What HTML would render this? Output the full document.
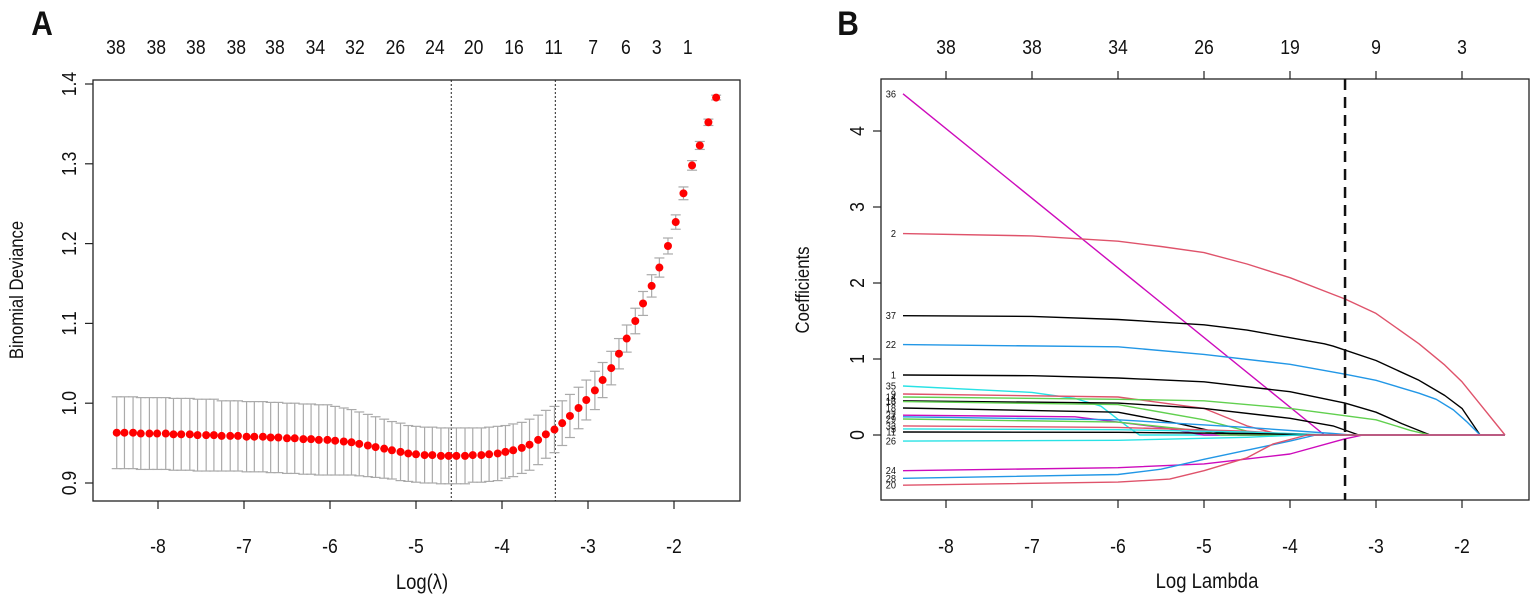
<!DOCTYPE html>
<html><head><meta charset="utf-8"><style>
html,body{margin:0;padding:0;background:#fff;}
svg{display:block;font-family:"Liberation Sans",sans-serif;}
</style></head><body>
<svg id="fig" width="1535" height="597" viewBox="0 0 1535 597" xmlns="http://www.w3.org/2000/svg">
<g id="pa"></g>
<g id="pb"></g>
</svg>
<script>
// ---------- Panel A data ----------
const logLambdaA = [-8.48,-8.39,-8.29,-8.20,-8.10,-8.01,-7.91,-7.82,-7.73,-7.63,-7.54,-7.44,-7.35,-7.26,-7.16,-7.07,-6.97,-6.88,-6.78,-6.69,-6.60,-6.50,-6.41,-6.31,-6.22,-6.13,-6.03,-5.94,-5.84,-5.75,-5.66,-5.56,-5.47,-5.37,-5.28,-5.18,-5.09,-5.00,-4.90,-4.81,-4.71,-4.62,-4.53,-4.43,-4.34,-4.24,-4.15,-4.05,-3.96,-3.87,-3.77,-3.68,-3.58,-3.49,-3.39,-3.30,-3.21,-3.11,-3.02,-2.92,-2.83,-2.73,-2.64,-2.55,-2.45,-2.36,-2.26,-2.17,-2.07,-1.98,-1.89,-1.79,-1.70,-1.60,-1.51];
const devianceA = [0.963,0.963,0.963,0.962,0.962,0.962,0.962,0.961,0.961,0.961,0.960,0.960,0.960,0.959,0.959,0.959,0.958,0.958,0.958,0.957,0.957,0.956,0.956,0.955,0.955,0.954,0.954,
0.953,0.952,0.951,0.949,0.947,0.945,0.943,0.941,0.939,0.937,0.936,0.935,0.935,0.934,
0.934,0.934,0.934,0.935,0.935,0.936,
0.937,0.939,0.941,0.944,0.948,0.954,
0.961,0.967,0.975,0.984,0.994,1.004,1.016,1.029,1.044,1.062,1.081,1.103,1.125,1.147,1.170,1.197,1.227,1.263,1.298,1.323,1.352,1.383];
const seA = [0.045,0.045,0.045,0.045,0.045,0.045,0.045,0.045,0.045,0.045,0.045,0.045,0.045,0.044,0.044,0.044,0.044,0.044,0.044,0.044,0.044,0.044,0.044,0.044,0.044,0.044,0.044,
0.043,0.042,0.041,0.040,0.039,0.038,0.037,0.036,0.036,0.035,0.035,0.035,0.035,0.035,
0.035,0.035,0.035,0.034,0.034,0.034,
0.034,0.033,0.033,0.032,0.032,0.031,
0.030,0.029,0.028,0.027,0.026,0.025,0.024,0.022,0.021,0.019,0.017,0.016,0.015,0.014,0.012,0.010,0.009,0.008,0.006,0.005,0.004,0.003];
const xTicksA = [-8,-7,-6,-5,-4,-3,-2];
const yTicksA = [0.9,1.0,1.1,1.2,1.3,1.4];
const yTickLabelsA = ["0.9","1.0","1.1","1.2","1.3","1.4"];
const topPosA = [-8.49,-8.02,-7.56,-7.09,-6.64,-6.17,-5.71,-5.24,-4.78,-4.33,-3.86,-3.40,-2.94,-2.56,-2.20,-1.84];
const topLabelsA = ["38","38","38","38","38","34","32","26","24","20","16","11","7","6","3","1"];
const vlinesA = [-4.59,-3.38];

// ---------- Panel B data ----------
const xTicksB = [-8,-7,-6,-5,-4,-3,-2];
const topLabelsB = ["38","38","34","26","19","9","3"];
const yTicksB = [0,1,2,3,4];
const vlineB = -3.36;
const pathLabels = ["36","2","37","22","1","35","9","14","13","16","18","27","7","29","33","5","11","26","24","28","20"];
const pathColors = ["#CD0BBC","#DF536B","#000000","#2297E6","#000000","#28E2E5","#DF536B","#61D04F","#000000","#61D04F","#000000","#CD0BBC","#2297E6","#61D04F","#DF536B","#28E2E5","#000000","#28E2E5","#CD0BBC","#2297E6","#DF536B"];
const pathX = [
 [-8.5,-3.6,-1.5],
 [-8.5,-7,-6,-5.5,-5,-4.5,-4,-3.5,-3.36,-3,-2.5,-2.2,-2,-1.8,-1.5],
 [-8.5,-7,-6,-5,-4.5,-4,-3.6,-3.5,-3,-2.5,-2.2,-2,-1.79,-1.5],
 [-8.5,-6,-5,-4,-3.36,-3,-2.5,-2.3,-2.1,-1.95,-1.79,-1.5],
 [-8.5,-7,-6,-5,-4,-3.36,-3,-2.7,-2.37,-1.5],
 [-8.5,-7,-6.5,-6.2,-5.9,-5.75,-1.5],
 [-8.5,-6,-5,-4.5,-4.1,-1.5],
 [-8.5,-6,-5,-4,-3,-2.6,-2.37,-1.5],
 [-8.5,-6,-5,-4,-3.5,-3.2,-1.5],
 [-8.5,-6,-5,-4.5,-4.3,-1.5],
 [-8.5,-6,-5.3,-4.9,-4.6,-1.5],
 [-8.5,-6.5,-5.5,-5,-1.5],
 [-8.5,-6,-4.5,-3.5,-3.3,-1.5],
 [-8.5,-6,-5,-4.8,-1.5],
 [-8.5,-6,-4.5,-3.8,-1.5],
 [-8.5,-6,-4.5,-3.5,-1.5],
 [-8.5,-6,-4.5,-3.6,-1.5],
 [-8.5,-6,-4.5,-3.9,-1.5],
 [-8.5,-6,-5,-4,-3.36,-3.15,-1.5],
 [-8.5,-6,-5.5,-5,-4.5,-4,-3.7,-1.5],
 [-8.5,-6,-5.4,-5,-4.5,-4.2,-3.8,-1.5]
];
const pathY = [
 [4.49,0,0],
 [2.65,2.62,2.55,2.48,2.40,2.25,2.07,1.85,1.79,1.60,1.20,0.92,0.70,0.42,0],
 [1.57,1.56,1.52,1.45,1.38,1.28,1.20,1.17,0.98,0.72,0.52,0.35,0,0],
 [1.19,1.16,1.06,0.93,0.80,0.72,0.55,0.47,0.33,0.18,0,0],
 [0.79,0.78,0.75,0.70,0.57,0.42,0.30,0.15,0,0],
 [0.645,0.56,0.48,0.38,0.12,0,0],
 [0.54,0.50,0.35,0.12,0,0],
 [0.50,0.47,0.45,0.35,0.20,0.06,0,0],
 [0.45,0.42,0.35,0.22,0.12,0,0],
 [0.44,0.40,0.20,0.05,0,0],
 [0.355,0.30,0.15,0.05,0,0],
 [0.26,0.24,0.10,0,0],
 [0.24,0.20,0.10,0.02,0,0],
 [0.21,0.17,0.05,0,0],
 [0.12,0.10,0.05,0,0],
 [0.08,0.07,0.04,0,0],
 [0.04,0.035,0.02,0,0],
 [-0.08,-0.07,-0.03,0,0],
 [-0.47,-0.43,-0.38,-0.25,-0.05,0,0],
 [-0.57,-0.52,-0.45,-0.32,-0.20,-0.08,0,0],
 [-0.66,-0.62,-0.58,-0.47,-0.30,-0.12,0,0]
];

const NS = "http://www.w3.org/2000/svg";
function mk(parent, tag, attrs) {
  const e = document.createElementNS(NS, tag);
  for (const k in attrs) e.setAttribute(k, attrs[k]);
  parent.appendChild(e);
  return e;
}
function txt(parent, x, y, s, size, rot, anchor, weight) {
  const e = mk(parent, "text", {
    transform: "translate(" + x + "," + y + ")" + (rot ? " rotate(" + rot + ")" : "") + " scale(0.88,1)",
    "font-size": size, "text-anchor": anchor || "middle", "font-weight": weight || "normal", fill: "#111"
  });
  e.textContent = s;
  return e;
}

// ---------- Panel A ----------
const pa = document.getElementById("pa");
const xA = v => 158 + (v + 8) * 86;
const yA = v => 483 - (v - 0.9) * 798;

let e = txt(pa, 42, 35, "A", 34, 0, "middle", "bold");



e = mk(pa, "rect", {x: 93, y: 80, width: 647, height: 421, fill: "none", stroke: "#222", "stroke-width": 1.3});



xTicksA.forEach(v => {
  const t = mk(pa, "line", {x1: xA(v), x2: xA(v), y1: 501, y2: 509, stroke: "#222", "stroke-width": 1.2});
  
  
  const l = txt(pa, xA(v), 553, String(v), 20);
  
  
});
yTicksA.forEach((v, i) => {
  const t = mk(pa, "line", {x1: 85, x2: 93, y1: yA(v), y2: yA(v), stroke: "#222", "stroke-width": 1.2});
  
  
  const l = txt(pa, 76, yA(v), yTickLabelsA[i], 20, -90);
  
  
});
topPosA.forEach((v, i) => {
  const l = txt(pa, xA(v), 54, topLabelsA[i], 20);
  
  
});
e = txt(pa, 422, 589, "Log(λ)", 21);


e = txt(pa, 23, 290, "Binomial Deviance", 19, -90);



vlinesA.forEach(v => {
  const l = mk(pa, "line", {x1: xA(v), x2: xA(v), y1: 80, y2: 501, stroke: "#222", "stroke-width": 1, "stroke-dasharray": "2,2"});
  
  
});
logLambdaA.forEach((v, i) => {
  const x = xA(v), up = yA(devianceA[i] + seA[i]), lo = yA(devianceA[i] - seA[i]);
  const g = mk(pa, "g", {stroke: "#aaa", "stroke-width": 1.2});
  
  
  mk(g, "line", {x1: x, x2: x, y1: up, y2: lo});
  mk(g, "line", {x1: x - 5, x2: x + 5, y1: up, y2: up});
  mk(g, "line", {x1: x - 5, x2: x + 5, y1: lo, y2: lo});
});
logLambdaA.forEach((v, i) => {
  const c = mk(pa, "circle", {cx: xA(v), cy: yA(devianceA[i]), r: 4, fill: "#ff0000"});
  
  
});

// ---------- Panel B ----------
const pb = document.getElementById("pb");
const xB = v => 946 + (v + 8) * 86;
const yB = v => 435 - v * 76;

e = txt(pb, 848, 35, "B", 34, 0, "middle", "bold");



e = mk(pb, "rect", {x: 881, y: 79, width: 648, height: 421, fill: "none", stroke: "#222", "stroke-width": 1.3});



xTicksB.forEach((v, i) => {
  const t = mk(pb, "line", {x1: xB(v), x2: xB(v), y1: 500, y2: 508, stroke: "#222", "stroke-width": 1.2});
  
  
  const l = txt(pb, xB(v), 553, String(v), 20);
  
  
  const tt = mk(pb, "line", {x1: xB(v), x2: xB(v), y1: 71, y2: 79, stroke: "#222", "stroke-width": 1.2});
  
  
  const tl = txt(pb, xB(v), 54, topLabelsB[i], 20);
  
  
});
yTicksB.forEach(v => {
  const t = mk(pb, "line", {x1: 873, x2: 881, y1: yB(v), y2: yB(v), stroke: "#222", "stroke-width": 1.2});
  
  
  const l = txt(pb, 864, yB(v), String(v), 20, -90);
  
  
});
e = txt(pb, 1207, 588, "Log Lambda", 21);


e = txt(pb, 809, 290, "Coefficients", 19, -90);



pathX.forEach((xs, i) => {
  const pts = xs.map((v, j) => xB(v).toFixed(1) + "," + yB(pathY[i][j]).toFixed(1)).join(" ");
  const p = mk(pb, "polyline", {points: pts, fill: "none", stroke: pathColors[i], "stroke-width": 1.4, "stroke-linejoin": "round"});
  
  
  const l = txt(pb, 896, yB(pathY[i][0]) + 3.5, pathLabels[i], 10.5, 0, "end");
  
  
});
e = mk(pb, "line", {x1: xB(vlineB), x2: xB(vlineB), y1: 79, y2: 500, stroke: "#111", "stroke-width": 2.5, "stroke-dasharray": "11,7"});


</script>
</body></html>
